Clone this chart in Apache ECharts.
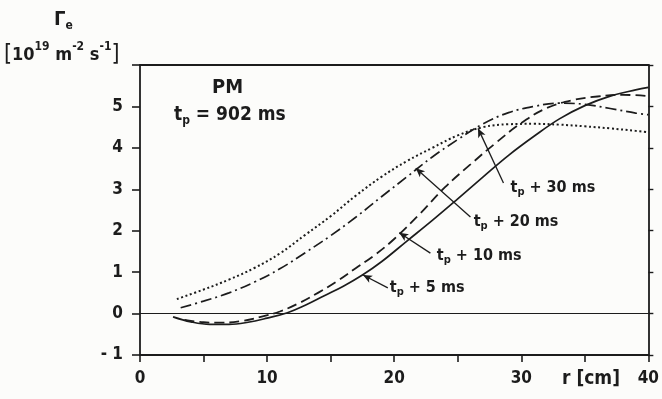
<!DOCTYPE html>
<html>
<head>
<meta charset="utf-8">
<script src="https://cdn.jsdelivr.net/npm/echarts@6/dist/echarts.min.js"></script>
<style>
  html, body { margin: 0; padding: 0; background: #fcfcfa; }
  #chart { width: 662px; height: 399px; }
</style>
</head>
<body>
<div id="chart"></div>
<script>
// flux profiles, r [cm] vs Gamma_e [1e19 m^-2 s^-1]
const r5 = [2.6, 4, 5.5, 7, 8.5, 10, 11.6, 13, 14.5, 16, 17.5, 19, 21, 23, 25, 27, 29, 31, 33, 35, 37, 39, 40];
const f5 = [-0.08, -0.2, -0.26, -0.26, -0.21, -0.11, 0.02, 0.2, 0.43, 0.66, 0.93, 1.25, 1.75, 2.25, 2.77, 3.3, 3.82, 4.28, 4.7, 5.02, 5.25, 5.4, 5.46];

const r10 = [3.5, 5, 6.5, 8, 9.5, 11, 12.5, 14, 15.5, 17, 18.5, 20, 22, 24, 26, 28, 30, 32, 34, 36, 38, 40];
const f10 = [-0.15, -0.21, -0.22, -0.18, -0.08, 0.05, 0.25, 0.5, 0.78, 1.1, 1.42, 1.8, 2.4, 3.05, 3.6, 4.12, 4.6, 4.96, 5.15, 5.24, 5.28, 5.25];

const r20 = [3.2, 5, 7, 9, 11, 13, 15, 17, 19, 21, 23, 25, 27, 29, 31, 33, 35, 37, 39, 40];
const f20 = [0.14, 0.3, 0.5, 0.76, 1.08, 1.47, 1.88, 2.33, 2.82, 3.3, 3.78, 4.2, 4.58, 4.85, 5.0, 5.08, 5.05, 4.95, 4.84, 4.8];

const r30 = [2.9, 5, 7, 9, 11, 13, 15, 17, 19, 21, 23, 25, 27, 29, 31, 33, 35, 37, 39, 40];
const f30 = [0.35, 0.58, 0.82, 1.1, 1.45, 1.9, 2.35, 2.85, 3.3, 3.68, 4.0, 4.3, 4.5, 4.57, 4.58, 4.56, 4.52, 4.47, 4.41, 4.38];

// curve labels "tp + N ms" and their arrows
const labelTimes = ["30", "20", "10", "5"];
const labelR = [29.0, 26.1, 23.2, 19.5];
const labelF = [3.03, 2.21, 1.39, 0.62];
const tipR = [26.6, 21.7, 20.4, 17.55];
const tipF = [4.47, 3.51, 1.95, 0.93];
const tailR = [28.6, 26.0, 22.85, 19.5];
const tailF = [3.15, 2.33, 1.46, 0.62];

const FONT = "'Liberation Sans Narrow', 'DejaVu Sans Condensed', 'Liberation Sans', sans-serif";
const INK = "#1c1c1c";

const zip = (xs, ys) => xs.map((x, i) => [x, ys[i]]);

const chart = echarts.init(document.getElementById("chart"));

chart.setOption({
  backgroundColor: "#fcfcfa",
  animation: false,
  grid: { left: 140, right: 9, top: 65, bottom: 44 },
  xAxis: [
    {
      type: "value",
      min: 0,
      max: 40,
      interval: 5,
      splitLine: { show: false },
      axisLine: { onZero: false, lineStyle: { color: INK, width: 1.8 } },
      axisTick: { length: 7, lineStyle: { color: INK, width: 1.6 } },
      axisLabel: {
        margin: 15,
        fontSize: 17,
        fontWeight: "bold",
        fontFamily: FONT,
        color: INK,
        formatter: (v) => (v % 10 === 0 ? String(v) : ""),
      },
    },
    {
      type: "value",
      position: "top",
      min: 0,
      max: 40,
      splitLine: { show: false },
      axisLine: { onZero: false, lineStyle: { color: INK, width: 1.8 } },
      axisTick: { show: false },
      axisLabel: { show: false },
    },
  ],
  yAxis: [
    {
      type: "value",
      min: -1,
      max: 6,
      interval: 1,
      splitLine: { show: false },
      axisLine: { onZero: false, lineStyle: { color: INK, width: 1.8 } },
      axisTick: { length: 8, lineStyle: { color: INK, width: 1.6 } },
      axisLabel: {
        margin: 17,
        fontSize: 17,
        fontWeight: "bold",
        fontFamily: FONT,
        color: INK,
        formatter: (v) => (v === 6 ? "" : v === -1 ? "- 1" : String(v)),
      },
    },
    {
      type: "value",
      position: "right",
      min: -1,
      max: 6,
      interval: 1,
      splitLine: { show: false },
      axisLine: { onZero: false, lineStyle: { color: INK, width: 1.8 } },
      axisTick: { length: 5, lineStyle: { color: INK, width: 1.4 } },
      axisLabel: { show: false },
    },
  ],
  series: [
    {
      name: "tp + 5 ms",
      type: "line",
      data: zip(r5, f5),
      smooth: 0.4,
      showSymbol: false,
      lineStyle: { color: INK, width: 1.7 },
      markLine: {
        silent: true,
        symbol: ["none", "none"],
        label: { show: false },
        lineStyle: { color: INK, width: 1.2, type: "solid" },
        data: [{ yAxis: 0 }],
      },
    },
    {
      name: "tp + 10 ms",
      type: "line",
      data: zip(r10, f10),
      smooth: 0.4,
      showSymbol: false,
      lineStyle: { color: INK, width: 1.8, type: [10, 5] },
    },
    {
      name: "tp + 20 ms",
      type: "line",
      data: zip(r20, f20),
      smooth: 0.4,
      showSymbol: false,
      lineStyle: { color: INK, width: 1.7, type: [11, 4, 2, 4] },
    },
    {
      name: "tp + 30 ms",
      type: "line",
      data: zip(r30, f30),
      smooth: 0.4,
      showSymbol: false,
      lineStyle: { color: INK, width: 2, type: [2, 2.6] },
    },
    {
      name: "labels",
      type: "scatter",
      symbolSize: 0,
      silent: true,
      itemStyle: { color: INK, opacity: 1 },
      data: labelR.map((x, i) => ({ value: [x, labelF[i]], name: labelTimes[i] })),
      label: {
        show: true,
        position: "right",
        distance: 2,
        color: INK,
        formatter: (p) => "{a|t}{p|p}{a| + " + p.name + " ms}",
        rich: {
          a: { fontSize: 16, lineHeight: 20, fontFamily: FONT, fontWeight: "bold", color: INK },
          p: { fontSize: 11, lineHeight: 11, fontFamily: FONT, fontWeight: "bold", color: INK, verticalAlign: "bottom" },
        },
      },
      markLine: {
        silent: true,
        symbol: ["arrow", "none"],
        symbolSize: [6, 9],
        label: { show: false },
        lineStyle: { color: INK, width: 1.3, type: "solid" },
        data: tipR.map((x, i) => [
          { coord: [x, tipF[i]] },
          { coord: [tailR[i], tailF[i]] },
        ]),
      },
    },
  ],
  graphic: [
    {
      type: "text",
      left: 54,
      top: 10,
      style: {
        text: "{g|Γ}{e|e}",
        rich: {
          g: { fontSize: 20, lineHeight: 24, fontFamily: FONT, fill: INK, fontWeight: "bold" },
          e: { fontSize: 12, lineHeight: 12, fontFamily: FONT, fill: INK, fontWeight: "bold", verticalAlign: "bottom" },
        },
      },
    },
    {
      type: "text",
      left: 4,
      top: 41,
      style: {
        text: "{b|[}{n|10}{s|19}{n| m}{s|-2}{n| s}{s|-1}{b|]}",
        rich: {
          b: { fontSize: 23, lineHeight: 28, fontFamily: FONT, fill: INK },
          n: { fontSize: 18, lineHeight: 28, fontFamily: FONT, fontWeight: "bold", fill: INK },
          s: { fontSize: 12, lineHeight: 17, fontFamily: FONT, fontWeight: "bold", fill: INK, verticalAlign: "top" },
        },
      },
    },
    {
      type: "text",
      left: 212,
      top: 78,
      style: { text: "PM", fontSize: 20, fontFamily: FONT, fontWeight: "bold", fill: INK },
    },
    {
      type: "text",
      left: 174,
      top: 106,
      style: {
        text: "{a|t}{p|p}{a| = 902 ms}",
        rich: {
          a: { fontSize: 19, lineHeight: 22, fontFamily: FONT, fontWeight: "bold", fill: INK },
          p: { fontSize: 12, lineHeight: 12, fontFamily: FONT, fontWeight: "bold", fill: INK, verticalAlign: "bottom" },
        },
      },
    },
    {
      type: "text",
      left: 562,
      top: 370,
      style: { text: "r [cm]", fontSize: 19, fontFamily: FONT, fontWeight: "bold", fill: INK },
    },
  ],
});

window.addEventListener("resize", () => chart.resize());
</script>
</body>
</html>
